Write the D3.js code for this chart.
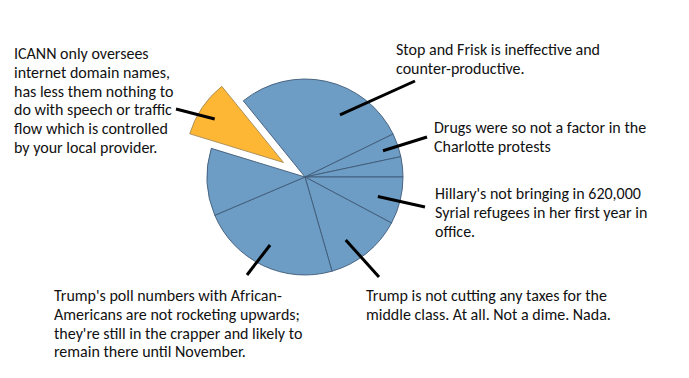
<!DOCTYPE html>
<html><head><meta charset="utf-8">
<script src="https://cdn.jsdelivr.net/npm/d3@7"></script>
<style>html,body{margin:0;padding:0;background:#fff;}svg{display:block;}</style>
</head><body><svg id="c" width="689" height="378"></svg>
<script>
// slice values (degrees of arc), in clockwise order starting at the exploded slice's far edge
const categories = ["Stop and Frisk", "Drugs", "Other A", "Hillary", "Trump taxes", "Trump poll", "Other B", "ICANN"];
const values = [103, 14, 12, 28, 46, 83, 40, 34];
const exploded = [false, false, false, false, false, false, false, true];
const labels = [
  ["Stop and Frisk is ineffective and", "counter-productive."],
  ["Drugs were so not a factor in the", "Charlotte protests"],
  [],
  ["Hillary's not bringing in 620,000", "Syrial refugees in her first year in", "office."],
  ["Trump is not cutting any taxes for the", "middle class. At all. Not a dime. Nada."],
  ["Trump's poll numbers with African-", "Americans are not rocketing upwards;", "they're still in the crapper and likely to", "remain there until November."],
  [],
  ["ICANN only oversees", "internet domain names,", "has less them nothing to", "do with speech or traffic", "flow which is controlled", "by your local provider."]
];

const svg = d3.select("#c");
const cx = 305, cy = 177, r = 98, explode = 26;
const start = -39 * Math.PI / 180;
const pie = d3.pie().sort(null).value(d => d).startAngle(start).endAngle(start + 2 * Math.PI);
const arcs = pie(values);
const arc = d3.arc().innerRadius(0).outerRadius(r);
const g = svg.append("g").attr("transform", `translate(${cx},${cy})`);

function offset(d, i) {
  if (!exploded[i]) return [0, 0];
  const m = (d.startAngle + d.endAngle) / 2;
  return [Math.sin(m) * explode, -Math.cos(m) * explode];
}

g.selectAll("path").data(arcs).join("path")
  .attr("d", arc)
  .attr("transform", (d, i) => { const o = offset(d, i); return `translate(${o[0]},${o[1]})`; })
  .attr("fill", (d, i) => exploded[i] ? "#FDB735" : "#6D9DC5")
  .attr("stroke", (d, i) => exploded[i] ? "#a58a55" : "#3f5a77")
  .attr("stroke-width", 0.9);

// pointer lines: inner end given as (angle in degrees clockwise from top, radius fraction), outer end as point
const pointerAngles = {0: 29.4, 1: 71.4, 3: 105, 4: 147.1, 5: 207.2, 7: 302.3};
const pointerR = {0: 0.727, 1: 0.84, 3: 0.77, 4: 0.765, 5: 0.78, 7: 0.83};
const pointerEnds = {0: [415, 81], 1: [427, 137], 3: [425, 207], 4: [379, 277], 5: [247, 275], 7: [176, 109]};
const lineG = svg.append("g");
Object.keys(pointerEnds).forEach(k => {
  const i = +k;
  const o = offset(arcs[i], i);
  const a = pointerAngles[i] * Math.PI / 180;
  const rr = r * pointerR[i];
  lineG.append("line")
    .attr("x1", cx + o[0] + Math.sin(a) * rr).attr("y1", cy + o[1] - Math.cos(a) * rr)
    .attr("x2", pointerEnds[i][0]).attr("y2", pointerEnds[i][1])
    .attr("stroke", "#000").attr("stroke-width", 3);
});

// label anchor positions (left x, first baseline y)
const labelPos = {0: [396, 55], 1: [434, 133], 3: [435, 199], 4: [366, 301], 5: [54, 301], 7: [14, 59]};
const lh = 18.8;
const tg = svg.append("g").attr("font-family", "Carlito, Calibri, Lato, sans-serif").attr("font-size", 16).attr("fill", "#111");
Object.keys(labelPos).forEach(k => {
  const i = +k;
  const t = tg.append("text").attr("x", labelPos[i][0]).attr("y", labelPos[i][1]);
  labels[i].forEach((ln, j) => {
    t.append("tspan").attr("x", labelPos[i][0]).attr("y", labelPos[i][1] + j * lh).text(ln);
  });
});
</script></body></html>
